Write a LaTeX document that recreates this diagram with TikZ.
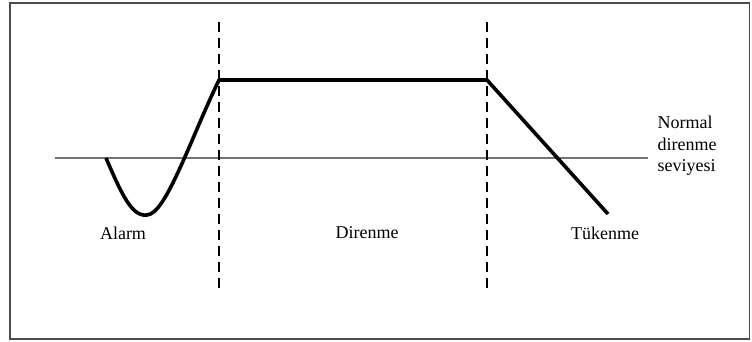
\documentclass[tikz,border=0pt]{standalone}
\usepackage{fontspec}
\setmainfont{Liberation Serif}
\begin{document}
\begin{tikzpicture}[x=1pt,y=-1pt,font=\fontsize{18}{21.5}\selectfont]
  \tikzset{
    evre/.style={line width=1.8pt,dash pattern=on 10pt off 6pt},
    egri/.style={line width=3.6pt,line join=round},
    duzey/.style={line width=1.6pt,draw=black!55}
  }
  \useasboundingbox (0,0) rectangle (752,342);
  \draw[line width=1.4pt,draw=black!70] (10,3) rectangle (749.5,339);
  \coordinate (n1) at (55,158);
  \coordinate (n2) at (648,158);
  \draw[duzey] (n1) -- (n2);
  \coordinate (d1) at (219,22);
  \coordinate (d2) at (219,293);
  \coordinate (d3) at (487,22);
  \coordinate (d4) at (487,293);
  \draw[evre] (d1) -- (d2);
  \draw[evre] (d3) -- (d4);
  \coordinate (c1) at (106,158);
  \coordinate (c2) at (147,215);
  \coordinate (c3) at (219,80);
  \coordinate (c4) at (487,80);
  \coordinate (c5) at (608,214);
  \draw[egri] (c1) .. controls (122,195) and (132,217) .. (c2)
    .. controls (166,214) and (190,140) .. (c3) -- (c4) -- (c5);
  \node (alarm) at (123,233) {Alarm};
  \node (direnme) at (367,233) {Direnme};
  \node (tukenme) at (605,233) {Tükenme};
  \node[align=left,anchor=west] (normal) at (654,146) {Normal\\direnme\\seviyesi};
\end{tikzpicture}
\end{document}
